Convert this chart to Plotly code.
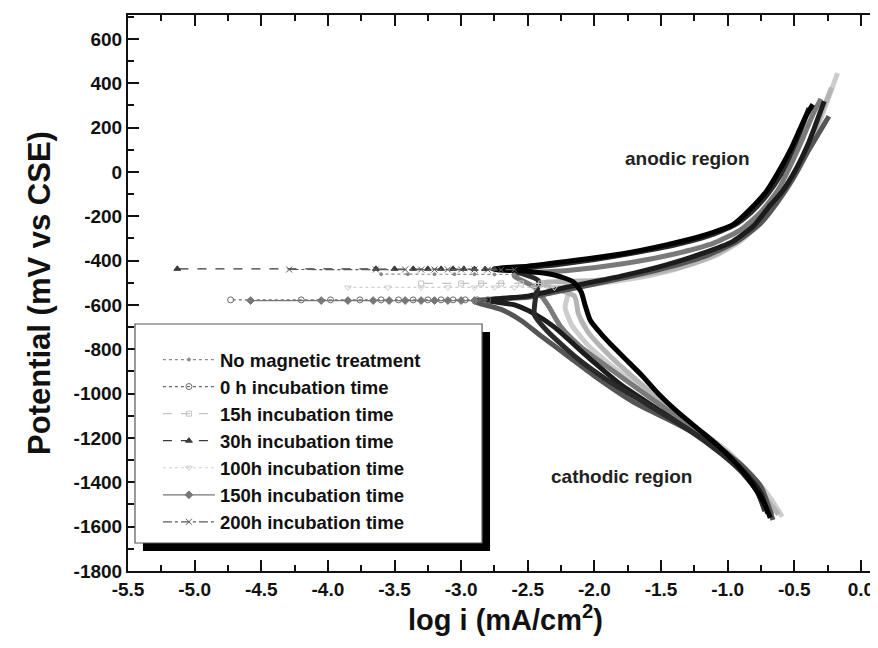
import plotly.graph_objects as go

# ---------------- data (log i in mA/cm2, potential in mV vs CSE) ----------------
names = ["No magnetic treatment", "0 h incubation time", "15h incubation time",
         "30h incubation time", "100h incubation time", "150h incubation time",
         "200h incubation time"]

# No magnetic treatment
nomag_cat_x = [-0.67, -0.70, -0.80, -1.00, -1.30, -1.60, -1.90, -2.10, -2.25, -2.35, -2.45, -2.60]
nomag_cat_y = [-1545, -1500, -1390, -1270, -1140, -1010, -880, -790, -700, -600, -520, -470]
nomag_an_x = [-2.60, -2.20, -1.80, -1.40, -1.10, -0.90, -0.75, -0.62, -0.52, -0.43, -0.36, -0.30]
nomag_an_y = [-461, -445, -415, -370, -320, -260, -180, -80, 40, 160, 260, 330]
nomag_sp_x = [-2.60, -2.75, -2.90, -3.05, -3.20, -3.40, -3.60]
nomag_sp_y = [-462, -462, -461, -461, -461, -461, -461]

# 0 h
h0_cat_x = [-0.70, -0.75, -0.85, -1.00, -1.20, -1.50, -1.80, -2.00, -2.15, -2.30, -2.45, -2.60, -2.80]
h0_cat_y = [-1540, -1450, -1370, -1280, -1200, -1080, -960, -860, -780, -700, -640, -600, -580]
h0_an_x = [-2.80, -2.50, -2.21, -1.80, -1.46, -1.20, -0.96, -0.80, -0.68, -0.59, -0.48, -0.40, -0.34, -0.275]
h0_an_y = [-577, -560, -520, -470, -419, -370, -313, -240, -150, -88, 20, 120, 213, 319]
h0_sp_x = [-2.80, -2.88, -2.97, -3.06, -3.15, -3.25, -3.36, -3.47, -3.60, -3.76, -3.98, -4.20, -4.73]
h0_sp_y = [-577, -577, -577, -577, -577, -577, -577, -577, -577, -577, -577, -577, -577]

# 15 h
h15_cat_x = [-0.62, -0.70, -0.85, -1.10, -1.40, -1.70, -1.90, -2.05, -2.12, -2.15, -2.40]
h15_cat_y = [-1545, -1480, -1370, -1220, -1080, -930, -820, -720, -640, -560, -505]
h15_an_x = [-2.40, -2.00, -1.60, -1.30, -1.05, -0.85, -0.70, -0.57, -0.45, -0.35, -0.28, -0.22]
h15_an_y = [-500, -490, -460, -420, -360, -280, -190, -80, 50, 180, 290, 380]
h15_sp_x = [-2.40, -2.55, -2.70, -2.85, -3.00, -3.30]
h15_sp_y = [-503, -503, -503, -503, -503, -503]

# 30 h
h30_cat_x = [-0.68, -0.72, -0.78, -0.86, -0.96, -1.08, -1.22, -1.38, -1.52, -1.64, -1.74,
             -1.84, -1.95, -2.03, -2.07, -2.10, -2.16, -2.30, -2.50, -2.75]
h30_cat_y = [-1560, -1500, -1440, -1370, -1300, -1230, -1160, -1080, -1000, -920, -860,
             -800, -730, -670, -600, -540, -495, -465, -448, -440]
h30_an_x = [-2.75, -2.50, -2.21, -1.80, -1.46, -1.20, -0.96, -0.85, -0.71, -0.60, -0.52, -0.46, -0.41, -0.36]
h30_an_y = [-437, -425, -404, -370, -329, -290, -238, -180, -88, 20, 110, 190, 255, 305]
h30_sp_x = [-2.75, -2.82, -2.90, -2.98, -3.06, -3.15, -3.25, -3.36, -3.50, -3.64, -5.13]
h30_sp_y = [-438, -438, -438, -437, -437, -437, -437, -437, -437, -437, -437]

# 100 h
h100_cat_x = [-0.59, -0.68, -0.80, -1.00, -1.30, -1.60, -1.90, -2.05, -2.17, -2.22, -2.20, -2.30]
h100_cat_y = [-1555, -1470, -1380, -1260, -1130, -1000, -860, -780, -690, -610, -545, -521]
h100_an_x = [-2.30, -2.00, -1.70, -1.40, -1.10, -0.90, -0.72, -0.58, -0.45, -0.35, -0.27, -0.175]
h100_an_y = [-521, -505, -480, -440, -380, -310, -210, -100, 30, 160, 290, 446]
h100_sp_x = [-2.30, -2.45, -2.60, -2.75, -2.90, -3.10, -3.30, -3.55, -3.85]
h100_sp_y = [-521, -521, -521, -521, -521, -521, -521, -521, -521]

# 150 h
h150_cat_x = [-0.66, -0.75, -0.90, -1.10, -1.40, -1.70, -2.00, -2.20, -2.40, -2.55, -2.70, -2.90]
h150_cat_y = [-1570, -1420, -1320, -1230, -1130, -1040, -920, -830, -740, -670, -620, -585]
h150_an_x = [-2.90, -2.50, -2.20, -1.80, -1.45, -1.15, -0.92, -0.75, -0.62, -0.50, -0.40, -0.30, -0.24]
h150_an_y = [-580, -565, -530, -480, -430, -375, -310, -230, -130, -20, 90, 190, 251]
h150_sp_x = [-2.90, -3.00, -3.10, -3.20, -3.30, -3.42, -3.54, -3.66, -3.85, -4.05, -4.58]
h150_sp_y = [-580, -580, -580, -580, -580, -580, -580, -580, -580, -580, -580]

# 200 h
h200_cat_x = [-0.72, -0.78, -0.90, -1.05, -1.30, -1.60, -1.90, -2.15, -2.35, -2.45, -2.44, -2.42, -2.60]
h200_cat_y = [-1530, -1440, -1350, -1270, -1160, -1050, -940, -830, -720, -645, -560, -490, -445]
h200_an_x = [-2.60, -2.30, -2.00, -1.70, -1.40, -1.15, -0.95, -0.82, -0.70, -0.60, -0.52, -0.45, -0.39]
h200_an_y = [-440, -420, -395, -365, -330, -290, -240, -180, -100, -10, 90, 190, 288]
h200_sp_x = [-2.60, -2.70, -2.80, -2.90, -3.00, -3.10, -3.20, -3.30, -3.42, -3.64, -4.29]
h200_sp_y = [-441, -441, -441, -440, -440, -440, -440, -440, -440, -440, -440]

x_ticks = [-5.5, -5.0, -4.5, -4.0, -3.5, -3.0, -2.5, -2.0, -1.5, -1.0, -0.5, 0.0]
y_ticks = [600, 400, 200, 0, -200, -400, -600, -800, -1000, -1200, -1400, -1600, -1800]

# ---------------- styles ----------------
series = {
    "No magnetic treatment": dict(cx=nomag_cat_x, cy=nomag_cat_y, ax=nomag_an_x, ay=nomag_an_y,
                                  sx=nomag_sp_x, sy=nomag_sp_y, body="#7a7a7a", thin="#8a8a8a",
                                  dash="dot", sym="circle", ms=3),
    "0 h incubation time": dict(cx=h0_cat_x, cy=h0_cat_y, ax=h0_an_x, ay=h0_an_y,
                                sx=h0_sp_x, sy=h0_sp_y, body="#1c1c1c", thin="#6a6a6a",
                                dash="dot", sym="circle-open", ms=6),
    "15h incubation time": dict(cx=h15_cat_x, cy=h15_cat_y, ax=h15_an_x, ay=h15_an_y,
                                sx=h15_sp_x, sy=h15_sp_y, body="#b4b4b4", thin="#c4c4c4",
                                dash="dash", sym="square-open", ms=5),
    "30h incubation time": dict(cx=h30_cat_x, cy=h30_cat_y, ax=h30_an_x, ay=h30_an_y,
                                sx=h30_sp_x, sy=h30_sp_y, body="#000000", thin="#3a3a3a",
                                dash="dash", sym="triangle-up", ms=6),
    "100h incubation time": dict(cx=h100_cat_x, cy=h100_cat_y, ax=h100_an_x, ay=h100_an_y,
                                 sx=h100_sp_x, sy=h100_sp_y, body="#cdcdcd", thin="#cfcfcf",
                                 dash="dot", sym="triangle-down-open", ms=6),
    "150h incubation time": dict(cx=h150_cat_x, cy=h150_cat_y, ax=h150_an_x, ay=h150_an_y,
                                 sx=h150_sp_x, sy=h150_sp_y, body="#555555", thin="#777777",
                                 dash="solid", sym="diamond", ms=6),
    "200h incubation time": dict(cx=h200_cat_x, cy=h200_cat_y, ax=h200_an_x, ay=h200_an_y,
                                 sx=h200_sp_x, sy=h200_sp_y, body="#2a2a2a", thin="#5a5a5a",
                                 dash="dashdot", sym="x-thin-open", ms=6),
}

fig = go.Figure()

body_order = ["100h incubation time", "15h incubation time", "No magnetic treatment",
              "150h incubation time", "0 h incubation time", "200h incubation time",
              "30h incubation time"]
for n in body_order:
    s = series[n]
    fig.add_trace(go.Scatter(x=s["cx"] + s["ax"], y=s["cy"] + s["ay"], mode="lines",
                             line=dict(color=s["body"], width=5, shape="spline", smoothing=0.6),
                             showlegend=False, legendgroup=n, hoverinfo="skip"))

for n in names:
    s = series[n]
    fig.add_trace(go.Scatter(x=s["sx"], y=s["sy"], mode="lines+markers", name=n, legendgroup=n,
                             line=dict(color=s["thin"], width=1.2, dash=s["dash"]),
                             marker=dict(symbol=s["sym"], size=s["ms"], color=s["thin"],
                                         line=dict(color=s["thin"], width=1))))

# plot-area geometry helpers (pixels -> paper)
L, R, T, B = 120, 1, 7, 85
W, H = 878 - L - R, 648 - T - B
def px(x):
    return (x - L) / W
def py(y):
    return (648 - B - y) / H

shapes = [
    dict(type="rect", xref="paper", yref="paper", x0=px(135), x1=px(483), y0=py(543), y1=py(324),
         fillcolor="black", line=dict(width=0), layer="above"),
    dict(type="rect", xref="paper", yref="paper", x0=px(127), x1=px(475), y0=py(535), y1=py(316),
         fillcolor="white", line=dict(color="#555555", width=1.2), layer="above"),
]

tickfont = dict(family="Liberation Sans, Arial, sans-serif", size=19, color="#111111", weight="bold")

fig.update_layout(
    width=878, height=648,
    margin=dict(l=L, r=R, t=T, b=B),
    paper_bgcolor="white", plot_bgcolor="white",
    shapes=shapes,
    showlegend=True,
    legend=dict(x=px(150), y=py(333), xanchor="left", yanchor="top",
                bgcolor="rgba(0,0,0,0)", borderwidth=0,
                font=dict(family="Liberation Sans, Arial, sans-serif", size=18.5,
                          color="#111111", weight="bold"),
                tracegroupgap=0, itemwidth=52),
    annotations=[
        dict(x=-1.3, y=60, xref="x", yref="y", text="anodic region", showarrow=False,
             font=dict(family="Liberation Sans, Arial, sans-serif", size=19, color="#222222",
                       weight="bold")),
        dict(x=-1.8, y=-1373, xref="x", yref="y", text="cathodic region", showarrow=False,
             font=dict(family="Liberation Sans, Arial, sans-serif", size=19, color="#222222",
                       weight="bold")),
    ],
)

fig.update_xaxes(range=[-5.5, 0.166], tickvals=x_ticks, ticktext=[f"{v:.1f}" for v in x_ticks],
                 ticks="inside", ticklen=11, tickwidth=2, tickcolor="#111111",
                 minor=dict(ticks="inside", ticklen=6, tickwidth=2, tickcolor="#111111", dtick=0.25,
                            tick0=-5.5, showgrid=False),
                 showline=True, linewidth=2, linecolor="#111111", mirror="allticks",
                 showgrid=False, zeroline=False, tickfont=tickfont,
                 title=dict(text="log i (mA/cm<sup>2</sup>)", standoff=11,
                            font=dict(family="Liberation Sans, Arial, sans-serif",
                                      size=29, color="#111111", weight="bold")))
fig.update_yaxes(range=[-1800, 708], tickvals=y_ticks, ticktext=[str(v) for v in y_ticks],
                 ticks="inside", ticklen=11, tickwidth=2, tickcolor="#111111",
                 minor=dict(ticks="inside", ticklen=6, tickwidth=2, tickcolor="#111111", dtick=100,
                            tick0=-1800, showgrid=False),
                 showline=True, linewidth=2, linecolor="#111111", mirror="allticks",
                 showgrid=False, zeroline=False, tickfont=tickfont,
                 title=dict(text="Potential (mV vs CSE)", standoff=14,
                            font=dict(family="Liberation Sans, Arial, sans-serif",
                                      size=31, color="#111111", weight="bold")))

fig.write_html("out.html")
